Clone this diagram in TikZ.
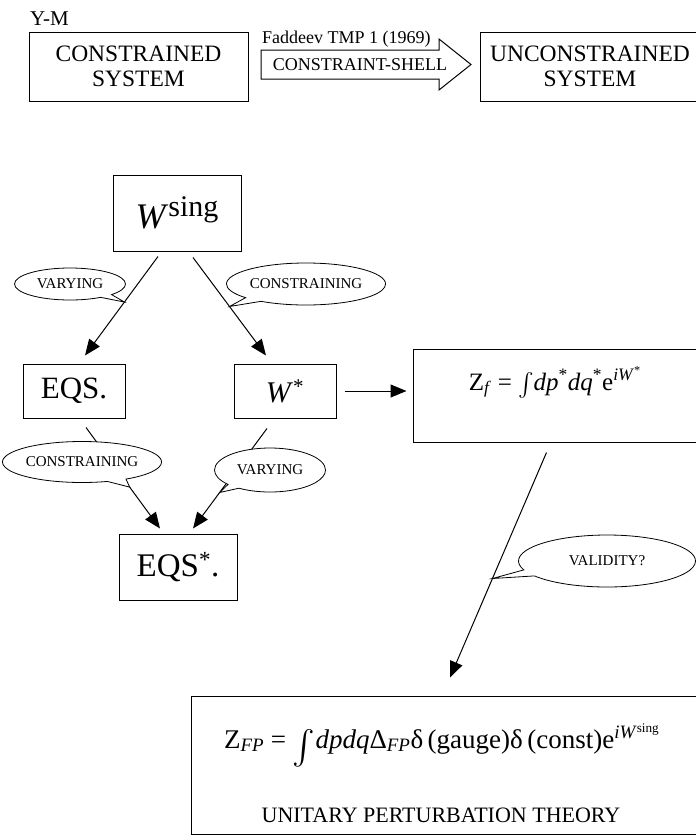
\documentclass[tikz,border=0pt]{standalone}
\usepackage{graphicx}
\usepackage{fontspec}
\setmainfont{Liberation Serif}
\usetikzlibrary{shapes.callouts,arrows.meta,calc}
\newcommand\myint[2]{\raisebox{-#2}{\resizebox*{!}{#1}{\raisebox{\depth}{$\int$}}}}
\begin{document}
\begin{tikzpicture}[x=1pt,y=-1pt,
  box/.style={draw,line width=1pt,inner sep=0pt,align=center},
  arr/.style={line width=1pt,-{Triangle[length=16pt,width=13pt]}},
  bubble/.style={ellipse callout,draw,fill=white,line width=0.8pt,inner sep=0pt,font=\fontsize{15}{18}\selectfont},
  big/.style={font=\fontsize{23.5}{25}\selectfont}]
\useasboundingbox (0,0) rectangle (696,836);

\node[anchor=base west,inner sep=0pt,font=\fontsize{21}{21}\selectfont] (ym) at (30,25) {Y-M};
\node[box,big,minimum width=219pt,minimum height=69pt] (cs) at (138.5,66.5) {CONSTRAINED\\SYSTEM};
\node[box,big,minimum width=220pt,minimum height=69pt] (us) at (590,66.5) {UNCONSTRAINED\\SYSTEM};

\draw[line width=1pt] (261,50) -- (439,50) -- (439,39) -- (471,64.5) -- (439,90) -- (439,79) -- (261,79) -- cycle;
\node[font=\fontsize{18}{18}\selectfont] (shell) at (360,65) {CONSTRAINT-SHELL};
\node[anchor=base west,inner sep=0pt,font=\fontsize{18}{18}\selectfont] (fad) at (262,43) {Faddeev TMP 1 (1969)};

\node[box,minimum width=128pt,minimum height=76pt] (wsing) at (177,213) {\fontsize{36}{36}\selectfont\textit{W}\raisebox{12pt}{\fontsize{30}{30}\selectfont sing}};
\node[box,minimum width=102pt,minimum height=54pt,font=\fontsize{31}{31}\selectfont] (eqs) at (74,391) {EQS.};
\node[box,minimum width=102pt,minimum height=54pt,font=\fontsize{30}{30}\selectfont] (wst) at (285,391) {\textit{W}\textsuperscript{*}};
\node[box,minimum width=118pt,minimum height=66pt,font=\fontsize{33}{33}\selectfont] (eqst) at (178,567) {EQS\textsuperscript{*}.};

\node[box,minimum width=287pt,minimum height=93pt] (zf) at (556.5,395.5) {};
\node[anchor=base,font=\fontsize{25}{25}\selectfont] (zft) at (555,390) {Z\textsubscript{\textit{f}} = \myint{1.1em}{0.4em}\textit{dp}\textsuperscript{*}\textit{dq}\textsuperscript{*}e\textsuperscript{\textit{iW}\textsuperscript{*}}};

\node[box,minimum width=509pt,minimum height=138pt] (fp) at (445.5,765) {};
\node[anchor=base,font=\fontsize{27}{27}\selectfont] (fpt) at (442,748) {Z\textsubscript{\textit{FP}} = \myint{1.48em}{0.78em}\textit{dpdq}Δ\textsubscript{\textit{FP}}δ\,(gauge)δ\,(const)e\textsuperscript{\textit{iW}\textsuperscript{sing}}};
\node[anchor=base,font=\fontsize{22}{22}\selectfont] (upt) at (441,822) {UNITARY PERTURBATION THEORY};

\coordinate (a1s) at ($(wsing.south)+(-19,5)$);
\coordinate (a1e) at ($(eqs.north)+(11,-8)$);
\coordinate (a2s) at ($(wsing.south)+(16,6)$);
\coordinate (a2e) at ($(wst.north)+(-19,-8)$);
\coordinate (a3s) at ($(eqs.south)+(12,9)$);
\coordinate (a3e) at ($(eqst.north)+(-18,-5)$);
\coordinate (a4s) at ($(wst.south)+(-18,10)$);
\coordinate (a4e) at ($(eqst.north)+(15,-5)$);
\coordinate (a5s) at ($(zf.south)+(-10,10)$);
\coordinate (a5e) at ($(fp.north)+(4.5,-18)$);
\draw[arr] (a1s) -- (a1e);
\draw[arr] (a2s) -- (a2e);
\draw[arr] (a3s) -- (a3e);
\draw[arr] (a4s) -- (a4e);
\draw[arr] (a5s) -- (a5e);
\draw[arr,shorten <=8pt,shorten >=6pt] (wst.east) -- (wst.east -| zf.west);

\node[bubble,minimum width=111pt,minimum height=32pt,callout absolute pointer={($(a1s)!0.46!(a1e)$)}] (c1) at (70,284) {VARYING};
\node[bubble,minimum width=145pt,minimum height=42pt,callout absolute pointer={($(a2s)!0.5!(a2e)$)}] (c2) at (306,284) {CONSTRAINING};
\node[bubble,minimum width=146pt,minimum height=41pt,callout absolute pointer={($(a3s)!0.59!(a3e)$)}] (c3) at (82,462) {CONSTRAINING};
\node[bubble,minimum width=111pt,minimum height=44pt,callout absolute pointer={($(a4s)!0.64!(a4e)$)}] (c4) at (270,470) {VARYING};
\node[bubble,minimum width=177pt,minimum height=52pt,callout absolute pointer={($(a5s)!0.56!(a5e)$)}] (c5) at (607,561) {VALIDITY?};
\end{tikzpicture}
\end{document}
